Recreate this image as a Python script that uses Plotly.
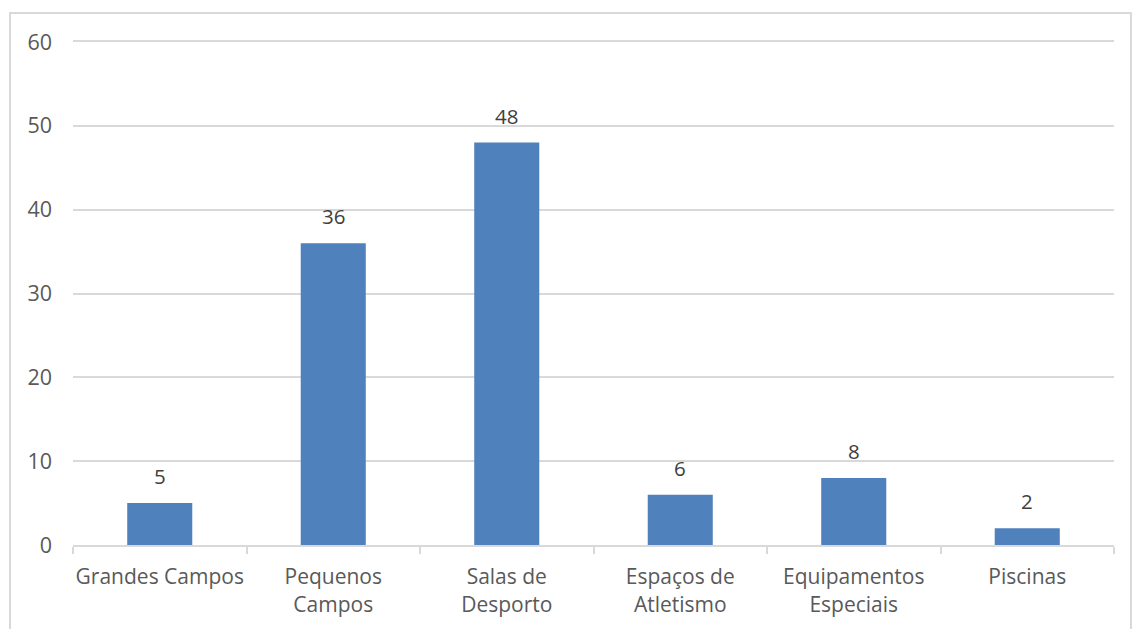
import plotly.graph_objects as go

categories = ["Grandes Campos", "Pequenos<br>Campos", "Salas de<br>Desporto",
              "Espaços de<br>Atletismo", "Equipamentos<br>Especiais", "Piscinas"]
values = [5, 36, 48, 6, 8, 2]
y_ticks = [0, 10, 20, 30, 40, 50, 60]

FONT = "Open Sans"
fig = go.Figure()
fig.add_trace(go.Bar(x=categories, y=values, marker_color="#4f81bd",
                     marker_line_width=0, width=0.375, hoverinfo="skip"))

for c, v in zip(categories, values):
    fig.add_annotation(x=c, y=v, text=str(v), showarrow=False, yanchor="middle",
                       yshift=27, font=dict(family=FONT, size=20.5, color="#404040"))

fig.add_shape(type="rect", xref="paper", yref="paper", x0=-0.0605, x1=1.0163,
              y0=-0.3, y1=1.0577, line=dict(color="#d9d9d9", width=2), layer="below")

fig.update_layout(
    width=1132, height=629, margin=dict(l=73, r=18, t=42, b=84),
    paper_bgcolor="white", plot_bgcolor="white", showlegend=False,
    font=dict(family=FONT, size=20.5, color="#595959"),
    xaxis=dict(showgrid=False, showline=True, mirror=True, linecolor="#d9d9d9", linewidth=2,
               ticks="outside", tickson="boundaries", ticklen=7, tickcolor="#d9d9d9",
               tickwidth=2, ticklabelstandoff=12, tickangle=0, automargin=False,
               tickfont=dict(size=21, color="#595959")),
    yaxis=dict(range=[0, 60], tickvals=y_ticks, showgrid=True, gridcolor="#d9d9d9",
               gridwidth=2, zeroline=False, showline=False, ticks="", automargin=False,
               ticklabelstandoff=20, tickfont=dict(size=21.5, color="#595959")),
)
fig.write_html("out.html")
